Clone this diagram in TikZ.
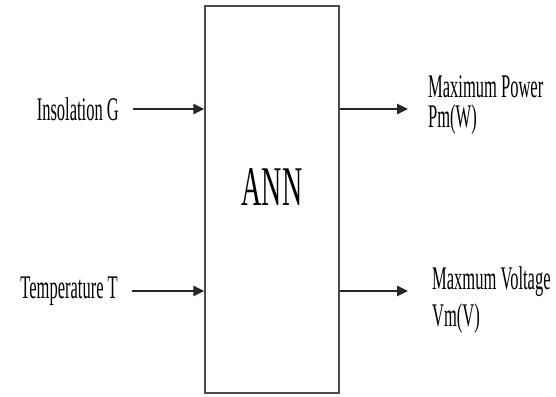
\documentclass[tikz,border=0pt]{standalone}
\usepackage{fontspec}
\setmainfont{Liberation Serif}
\usetikzlibrary{arrows.meta}
\newcommand{\narrow}[1]{\scalebox{0.5}[1]{#1}}
\begin{document}
\begin{tikzpicture}[x=1pt,y=-1pt,
    lbl/.style={font=\fontsize{33}{30}\selectfont, inner xsep=14pt, inner ysep=0pt},
    outlbl/.style={font=\fontsize{33}{30}\selectfont, inner sep=0pt, anchor=north west, align=left},
    arr/.style={line width=2.5pt, draw=black!85, -{Triangle[length=11pt,width=10pt]}}]
        \useasboundingbox (0,0) rectangle (556,396);
        \node [draw=black!70, line width=1.3pt, minimum width=134pt, minimum height=387pt] (ann) at (272,199.5) {};
        \node [font=\fontsize{56}{56}\selectfont, inner sep=0pt] (annlbl) at ([yshift=12pt]ann.center) {\narrow{ANN}};
        % inputs
        \node [lbl, anchor=east] (insol) at (133,109) {\narrow{Insolation G}};
        \node [lbl, anchor=east] (temp) at (132,291) {\narrow{Temperature T}};
        \draw [arr] (insol) -- (insol -| ann.west);
        \draw [arr] (temp) -- (temp -| ann.west);
        % outputs
        \coordinate (pout) at (408,109);
        \coordinate (vout) at (408,291);
        \draw [arr] (pout -| ann.east) -- (pout);
        \draw [arr] (vout -| ann.east) -- (vout);
        \node [outlbl] (pm) at (428,75) {\narrow{Maximum Power}\\\narrow{Pm(W)}};
        \node [outlbl] (vm) at (432,266) {\narrow{Maxmum Voltage}\\[6pt]\narrow{Vm(V)}};
\end{tikzpicture}
\end{document}
